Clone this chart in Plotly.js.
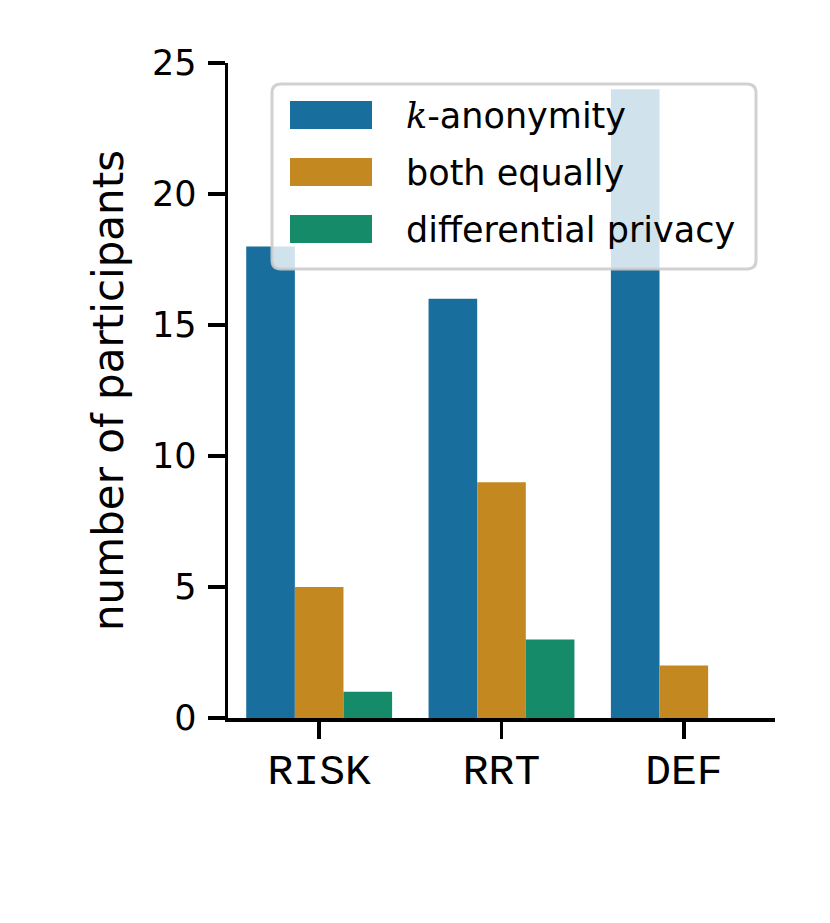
<!DOCTYPE html>
<html>
<head>
<meta charset="utf-8">
<script src="https://cdn.plot.ly/plotly-3.0.1.min.js"></script>
<style>html,body{margin:0;padding:0;background:#fff;}</style>
</head>
<body>
<div id="chart" style="width:830px;height:923px;"></div>
<script>
// ---- data ----
const categories = ['RISK', 'RRT', 'DEF'];
const seriesNames = ['k-anonymity', 'both equally', 'differential privacy'];
const legendLabels = ['<span style="font-family:\'DejaVu Serif\';font-style:italic">k</span>-anonymity', 'both equally', 'differential privacy'];
const kAnonymity = [18, 16, 24];
const bothEqually = [5, 9, 2];
const differentialPrivacy = [1, 3, 0];
const yTickVals = [0, 5, 10, 15, 20, 25];
const yTickText = ['0', '5', '10', '15', '20', '25'];

const colors = ['#186f9d', '#c38820', '#168b6a'];
const seriesValues = [kAnonymity, bothEqually, differentialPrivacy];

const traces = seriesValues.map((vals, i) => ({
  type: 'bar',
  name: seriesNames[i],
  x: categories,
  y: vals,
  marker: {color: colors[i], line: {width: 0}},
  showlegend: false,
  hoverinfo: 'x+y+name'
}));

// ---- custom legend (layout decoration in paper coords) ----
const W = 830, H = 923, mL = 228, mR = 55, mT = 63, mB = 205;
const pw = W - mL - mR, ph = H - mT - mB;
const px = v => (v - mL) / pw;
const py = v => (H - mB - v) / ph;

function roundedRect(x0, y0, x1, y1, r) {
  const rx = r / pw, ry = r / ph;
  const X0 = px(x0), X1 = px(x1), Yt = py(y0), Yb = py(y1);
  return `M${X0 + rx},${Yt} L${X1 - rx},${Yt} Q${X1},${Yt} ${X1},${Yt - ry} ` +
         `L${X1},${Yb + ry} Q${X1},${Yb} ${X1 - rx},${Yb} L${X0 + rx},${Yb} ` +
         `Q${X0},${Yb} ${X0},${Yb + ry} L${X0},${Yt - ry} Q${X0},${Yt} ${X0 + rx},${Yt} Z`;
}

const shapes = [{
  type: 'path', xref: 'paper', yref: 'paper', layer: 'above',
  path: roundedRect(272, 84, 756, 269, 9),
  fillcolor: 'rgba(255,255,255,0.8)',
  line: {color: 'rgba(204,204,204,0.9)', width: 3}
}];
const annotations = [];
const rowTop = 115, rowStep = 57, swH = 28;
seriesNames.forEach((n, i) => {
  const cy = rowTop + i * rowStep;
  shapes.push({
    type: 'rect', xref: 'paper', yref: 'paper', layer: 'above',
    x0: px(290), x1: px(372), y0: py(cy - swH / 2), y1: py(cy + swH / 2),
    fillcolor: colors[i], line: {width: 0}
  });
  annotations.push({
    xref: 'paper', yref: 'paper', x: px(404), y: py(cy + 1),
    xanchor: 'left', yanchor: 'middle', showarrow: false,
    text: legendLabels[i],
    font: {family: 'DejaVu Sans', size: 35, color: '#000'}
  });
});

const layout = {
  width: W, height: H,
  margin: {l: mL, r: mR, t: mT, b: mB, pad: 0},
  paper_bgcolor: '#fff', plot_bgcolor: '#fff',
  barmode: 'group', bargap: 0.2, bargroupgap: 0,
  showlegend: false,
  xaxis: {
    type: 'category', range: [-0.5, 2.5],
    showline: true, linecolor: '#000', linewidth: 3.5,
    ticks: 'outside', ticklen: 17, tickwidth: 3.5, tickcolor: '#000',
    showgrid: false, zeroline: false,
    tickfont: {family: 'Liberation Mono', size: 43, color: '#000'},
    ticklabelstandoff: -6
  },
  yaxis: {
    range: [0, 25], tickvals: yTickVals, ticktext: yTickText,
    showline: true, linecolor: '#000', linewidth: 3.5,
    ticks: 'outside', ticklen: 17, tickwidth: 3.5, tickcolor: '#000',
    showgrid: false, zeroline: false,
    tickfont: {family: 'DejaVu Sans', size: 35, color: '#000'},
    ticklabelstandoff: 4,
    title: {text: 'number of participants', font: {family: 'DejaVu Sans', size: 42, color: '#000'}, standoff: 16}
  },
  shapes: shapes,
  annotations: annotations
};

Plotly.newPlot('chart', traces, layout, {displayModeBar: false, staticPlot: true});
</script>
</body>
</html>
